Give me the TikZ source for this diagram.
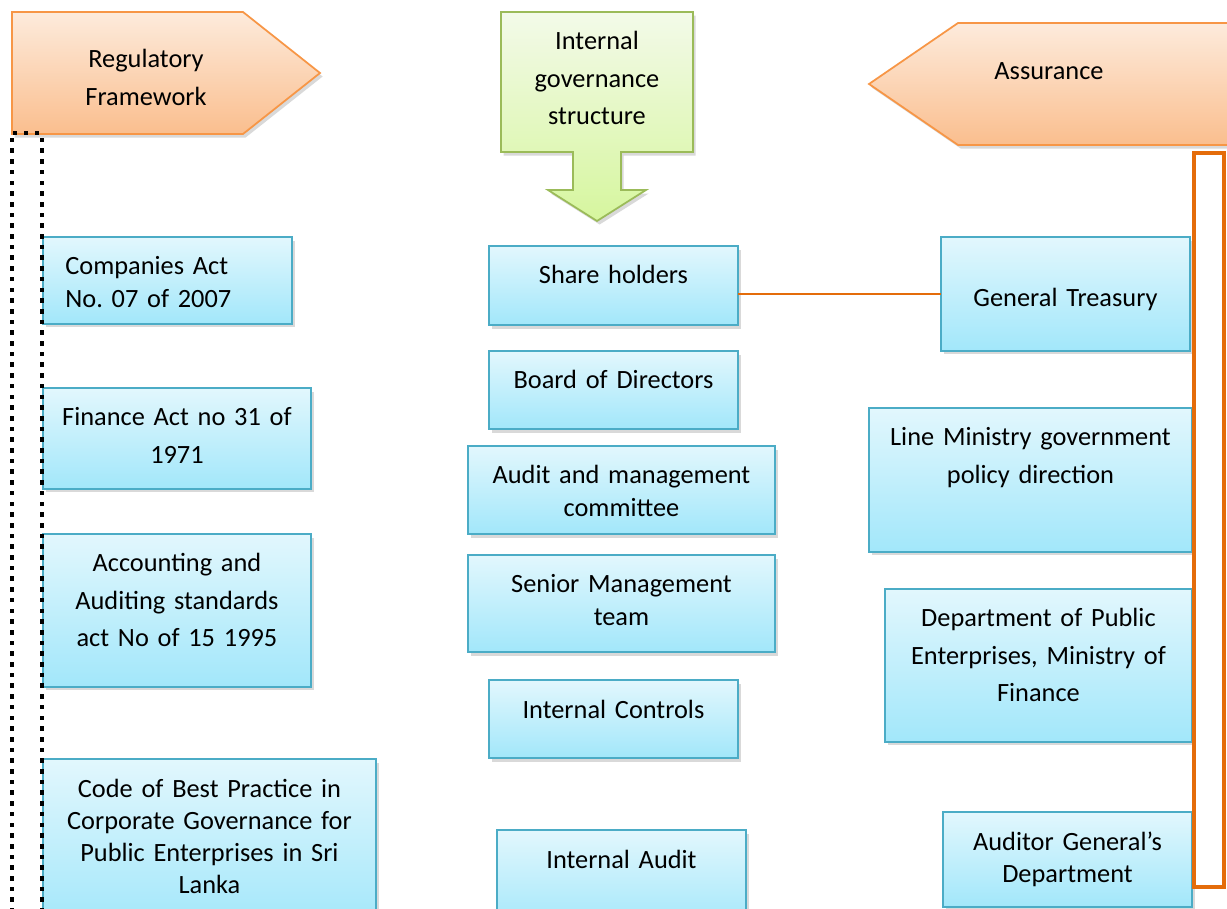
\documentclass[tikz,border=0pt]{standalone}
\usepackage{fontspec}
\setmainfont{Carlito}
\frenchspacing
\usetikzlibrary{shapes}
\usetikzlibrary{positioning}
\usetikzlibrary{shadows}
\definecolor{boxtop}{RGB}{226,247,253}
\definecolor{boxbot}{RGB}{162,231,250}
\definecolor{boxline}{RGB}{75,172,198}
\definecolor{peachtop}{RGB}{253,235,220}
\definecolor{peachbot}{RGB}{250,190,142}
\definecolor{peachline}{RGB}{247,150,70}
\definecolor{limetop}{RGB}{243,250,233}
\definecolor{limebot}{RGB}{214,246,158}
\definecolor{limeline}{RGB}{155,187,89}
\definecolor{rust}{RGB}{228,108,10}
\newcommand\fsone{\fontsize{15}{18.3}\selectfont}
\newcommand\fstwo{\fontsize{15}{21.2}\selectfont}
\tikzset{
    softshadow/.style = {drop shadow={shadow xshift=1.5pt, shadow yshift=-2pt, opacity=0.3}},
    box/.style = {rectangle, draw=boxline, line width=1pt, top color=boxtop, bottom color=boxbot, anchor=north west, inner sep=0pt, outer sep=0pt, softshadow},
    lbl/.style = {anchor=base, yshift=-0.76cm, inner sep=0pt, align=center, text width=7cm, font=\fsone},
    lblw/.style = {lbl, font=\fstwo},
    peach/.style = {draw=peachline, line width=1pt, top color=peachtop, bottom color=peachbot, softshadow},
    lime/.style = {draw=limeline, line width=1pt, top color=limetop, bottom color=limebot, softshadow},
    headtxt/.style = {anchor=base, inner sep=0pt, align=center, text width=5cm, font=\fstwo},
    link/.style = {draw=rust, line width=1.1pt},
    regdot/.style = {fill=black}, % left bracket
    assurebar/.style = {draw=rust, line width=1.8pt} % right bracket
}
\begin{document}
\begin{tikzpicture}[x=0.02cm, y=-0.02cm]
\useasboundingbox (0,0) rectangle (1227,909);

% headings
\draw[peach] (12,12) -- (243,12) -- (320,73) -- (243,134) -- (12,134) -- cycle;
\node[headtxt] (regtxt) at (146,68) {Regulatory\\Framework};
\draw[lime] (501,12) -- (693,12) -- (693,152) -- (621,152) -- (621,190) -- (646,190) -- (597,221) -- (548,190) -- (573,190) -- (573,152) -- (501,152) -- cycle;
\node[headtxt] (govtxt) at (597,50) {Internal\\governance\\structure};
\draw[peach] (869,84) -- (958,23) -- (1240,23) -- (1240,145) -- (958,145) -- cycle;
\node[headtxt] (asstxt) at (1049,80) {Assurance};

% regulatory framework
\node[box, minimum width=4.98cm, minimum height=1.74cm, label={[lbl, align=left, anchor=base west, xshift=0.44cm]north west:Companies Act\\No. 07 of 2007}] (companies) at (43,237) {};
\node[box, minimum width=5.36cm, minimum height=2.02cm, label={[lblw]north:Finance Act no 31 of\\1971}] (finance) at (43,388) {};
\node[box, minimum width=5.36cm, minimum height=3.06cm, label={[lblw]north:Accounting and\\Auditing standards\\act No of 15 1995}] (accounting) at (43,534) {};
\node[box, minimum width=6.66cm, minimum height=3.40cm, label={[lbl]north:Code of Best Practice in\\Corporate Governance for\\Public Enterprises in Sri\\Lanka}] (code) at (43,759) {};

% internal governance
\node[box, minimum width=4.98cm, minimum height=1.58cm, label={[lbl]north:Share holders}] (shareholders) at (489,246) {};
\node[box, minimum width=4.98cm, minimum height=1.56cm, label={[lbl]north:Board of Directors}] (board) at (489,351) {};
\node[box, minimum width=6.14cm, minimum height=1.76cm, label={[lbl]north:Audit and management\\committee}] (auditcom) at (468,446) {};
\node[box, minimum width=6.14cm, minimum height=1.94cm, label={[lbl]north:Senior Management\\team}] (senior) at (468,555) {};
\node[box, minimum width=4.98cm, minimum height=1.56cm, label={[lbl]north:Internal Controls}] (controls) at (489,680) {};
\node[box, minimum width=4.98cm, minimum height=2.00cm, label={[lbl]north:Internal Audit}] (intaudit) at (497,830) {};

% assurance
\node[box, minimum width=4.98cm, minimum height=2.28cm, label={[lbl, yshift=-0.63cm]north:General Treasury}] (treasury) at (941,237) {};
\node[box, minimum width=6.46cm, minimum height=2.88cm, label={[lblw]north:Line Ministry government\\policy direction}] (ministry) at (869,408) {};
\node[box, minimum width=6.14cm, minimum height=3.06cm, label={[lblw]north:Department of Public\\Enterprises, Ministry of\\Finance}] (dpe) at (885,589) {};
\node[box, minimum width=4.98cm, minimum height=1.90cm, label={[lbl]north:Auditor General’s\\Department}] (auditor) at (943,812) {};

\draw[link] (shareholders.east |- treasury.west) -- (treasury.west);

% dotted bracket
\foreach \x in {15,26,37}
  \fill[regdot] (\x-2.3,130.7) rectangle ++(4.6,4.6);
\foreach \y in {140,150.7,...,915} {
  \fill[regdot] (9.7,\y-2.3) rectangle ++(4.6,4.6);
  \fill[regdot] (39.7,\y-2.3) rectangle ++(4.6,4.6);
}
\draw[assurebar] (1194,153) rectangle (1224,887);

\end{tikzpicture}
\end{document}
